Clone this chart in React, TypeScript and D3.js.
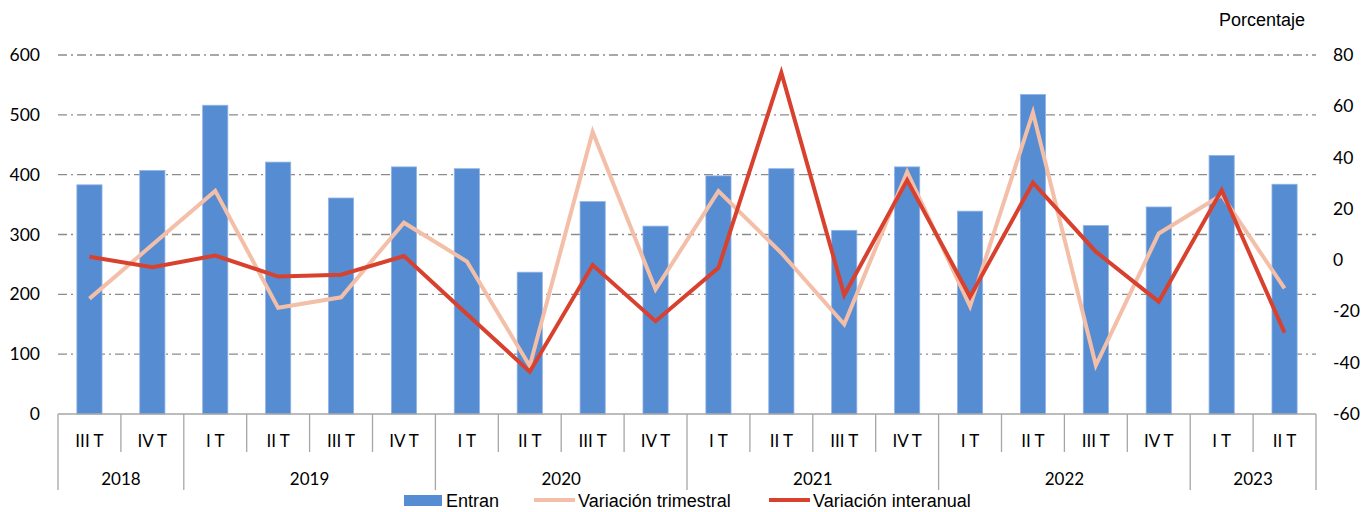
import React from "react";
import * as d3 from "d3";

const quarters = ["III T","IV T","I T","II T","III T","IV T","I T","II T","III T","IV T","I T","II T","III T","IV T","I T","II T","III T","IV T","I T","II T"];
const years = [
  { label: "2018", start: 0, end: 2 },
  { label: "2019", start: 2, end: 6 },
  { label: "2020", start: 6, end: 10 },
  { label: "2021", start: 10, end: 14 },
  { label: "2022", start: 14, end: 18 },
  { label: "2023", start: 18, end: 20 },
];
const entran = [383, 407, 516, 421, 361, 413, 410, 237, 355, 314, 398, 410, 307, 413, 339, 534, 315, 346, 432, 384];
const varTrimestral = [-15, 6, 27, -18.6, -14.5, 14.6, -0.5, -41.3, 50, -11.4, 26.9, 2.8, -25, 34.4, -18, 57.6, -41, 10.4, 25.4, -11];
const varInteranual = [1.3, -2.8, 1.8, -6.4, -5.7, 1.6, -21, -43.5, -1.9, -23.8, -3, 73.1, -13.6, 31.2, -14.3, 30.2, 3.3, -16.2, 27.3, -28.3];
const leftTicks = [0, 100, 200, 300, 400, 500, 600];
const rightTicks = [-60, -40, -20, 0, 20, 40, 60, 80];

const W = 1365, H = 512;
const L = 58, R = 1316, T = 55, B = 414;

export default function App() {
  const x = d3.scaleBand<number>().domain(d3.range(quarters.length)).range([L, R]).paddingInner(0).paddingOuter(0);
  const yL = d3.scaleLinear().domain([0, 600]).range([B, T]);
  const yR = d3.scaleLinear().domain([-60, 80]).range([B, T]);
  const bw = x.bandwidth();
  const barW = bw * 0.4;
  const cx = (i: number) => (x(i) as number) + bw / 2;
  const line = d3.line<number>().x((_, i) => cx(i)).y(d => yR(d));
  const axisColor = "#a6a6a6";
  const numFont = "Lato, 'Open Sans', sans-serif";
  const txtFont = "'Liberation Sans', Arial, sans-serif";

  return (
    <svg width={W} height={H} style={{ position: "absolute", left: 0, top: 0, background: "#fff" }}>
      {leftTicks.filter(t => t > 0).map(t => (
        <line key={t} x1={L} x2={R} y1={yL(t)} y2={yL(t)} stroke="#8c8c8c" strokeWidth={1.3} strokeDasharray="9,4,2,4" />
      ))}
      {entran.map((v, i) => (
        <rect key={i} x={cx(i) - barW / 2} y={yL(v)} width={barW} height={yL(0) - yL(v)} fill="#558cd2" stroke="#8fb4e6" strokeWidth={0.8} />
      ))}
      <path d={line(varTrimestral) || ""} fill="none" stroke="#f4bfa8" strokeWidth={4} strokeLinejoin="miter" />
      <path d={line(varInteranual) || ""} fill="none" stroke="#d9412f" strokeWidth={4} strokeLinejoin="miter" />
      <line x1={L} x2={R} y1={B} y2={B} stroke={axisColor} strokeWidth={1.5} />
      {d3.range(quarters.length + 1).map(i => {
        const isYear = years.some(y => y.start === i) || i === quarters.length;
        const xx = i === quarters.length ? R : (x(i) as number);
        return <line key={i} x1={xx} x2={xx} y1={B} y2={isYear ? 490 : 452} stroke={axisColor} strokeWidth={1.3} />;
      })}
      {quarters.map((q, i) => (
        <text key={i} x={cx(i)} y={447} textAnchor="middle" fontFamily={numFont} fontSize={17} fill="#000">{q}</text>
      ))}
      {years.map(yr => (
        <text key={yr.label} x={((x(yr.start) as number) + (yr.end === quarters.length ? R : (x(yr.end) as number))) / 2} y={485} textAnchor="middle" fontFamily={numFont} fontSize={17} fill="#000">{yr.label}</text>
      ))}
      {leftTicks.map(t => (
        <text key={t} x={40} y={yL(t) + 6} textAnchor="end" fontFamily={numFont} fontSize={17.5} fill="#000">{t}</text>
      ))}
      {rightTicks.map(t => (
        <text key={t} x={1333} y={yR(t) + 6} textAnchor="start" fontFamily={numFont} fontSize={17.5} fill="#000">{t}</text>
      ))}
      <text x={1305} y={26} textAnchor="end" fontFamily={txtFont} fontSize={18} fill="#000">Porcentaje</text>
      <rect x={404} y={495} width={38} height={11} fill="#558cd2" />
      <text x={446} y={507} fontFamily={txtFont} fontSize={18} fill="#000">Entran</text>
      <line x1={534} x2={575} y1={500} y2={500} stroke="#f4bfa8" strokeWidth={4} />
      <text x={578} y={507} fontFamily={txtFont} fontSize={18} fill="#000">Variación trimestral</text>
      <line x1={769} x2={810} y1={500} y2={500} stroke="#d9412f" strokeWidth={4} />
      <text x={813} y={507} fontFamily={txtFont} fontSize={18} fill="#000">Variación interanual</text>
    </svg>
  );
}
